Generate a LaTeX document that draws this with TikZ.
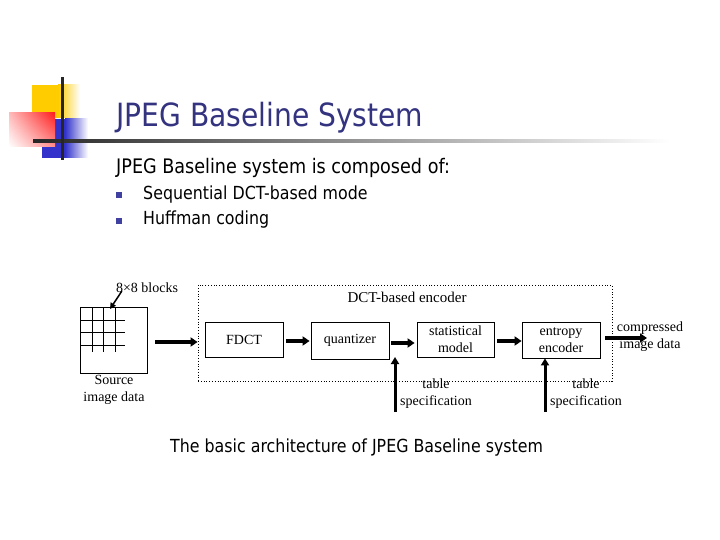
\documentclass[tikz,border=0pt]{standalone}
\usepackage{fontspec}
\setmainfont{Liberation Serif}
\newfontfamily\tah[FakeStretch=0.88]{DejaVu Sans}
\usetikzlibrary{arrows.meta,shadings}
\definecolor{titleblue}{RGB}{51,51,128}
\definecolor{bulletblue}{RGB}{64,64,160}
\definecolor{decoyellow}{RGB}{255,204,0}
\definecolor{decored}{RGB}{255,30,30}
\definecolor{decoblue}{RGB}{51,51,204}
\begin{document}
\begin{tikzpicture}[x=1bp,y=-1bp,
  box/.style={draw, line width=0.8bp, inner sep=0pt, font=\fontsize{14bp}{17bp}\selectfont, align=center},
  lbl/.style={inner sep=0pt, font=\fontsize{14bp}{17bp}\selectfont, align=center},
  bigarrow/.style={line width=3.5bp, -{Triangle[length=7bp,width=9bp]}},
  thinarrow/.style={line width=1.5bp, -{Triangle[length=6bp,width=6bp]}},
  slidetext/.style={anchor=base west, inner sep=0pt, font=\tah\fontsize{18bp}{21bp}\selectfont},
  bullet/.style={fill=bulletblue, minimum size=6bp, inner sep=0pt}]
\useasboundingbox (0,0) rectangle (720,540);
\fill[white] (0,0) rectangle (720,540);
% decoration
\fill[decoyellow] (32,85) rectangle (58,118);
\shade[left color=decoyellow, right color=white] (58,85) rectangle (80,118);
\fill[decoblue] (42,119) rectangle (65,158);
\shade[left color=decoblue, right color=white] (65,119) rectangle (88,158);
\shade[upper left=decored!30!white, upper right=decored, lower left=white, lower right=decored!50!white] (9,113) rectangle (55,147);
\shade[left color=black!85, right color=white] (33,139.5) rectangle (670,142.5);
\fill[black!85] (60.5,77) rectangle (63.5,160);
% title and text
\node[anchor=base west, inner sep=0pt, text=titleblue, font=\tah\fontsize{32bp}{38bp}\selectfont] (title) at (116,127) {JPEG Baseline System};
\node[slidetext, font=\tah\fontsize{20bp}{24bp}\selectfont] (intro) at (116,174) {JPEG Baseline system is composed of:};
\node[bullet] (b1) at (119,195.5) {};
\node[slidetext] (t1) at (143,200) {Sequential DCT-based mode};
\node[bullet] (b2) at (119,221.5) {};
\node[slidetext] (t2) at (143,225) {Huffman coding};
% diagram
\node[draw, line width=0.8bp, minimum width=67bp, minimum height=66bp, inner sep=0pt] (src) at (113.5,340) {};
\foreach \x in {92,103.5,115} \draw[line width=0.8bp] (\x,307) -- (\x,352);
\foreach \y in {320,332.5,345} \draw[line width=0.8bp] (80,\y) -- (125,\y);
\node[lbl] (srclbl) at (114,389.5) {Source\\image data};
\node[lbl] (blocks) at (147,288) {8×8 blocks};
\coordinate (blockpt) at (110,309);
\draw[thinarrow] ([xshift=6bp,yshift=2bp]blocks.south west) -- (blockpt);
\node[draw, dotted, line width=0.8bp, minimum width=414bp, minimum height=96bp, inner sep=0pt] (enc) at (405,333) {};
\node[lbl, font=\fontsize{15bp}{18bp}\selectfont] (enclbl) at (407,297) {DCT-based encoder};
\node[box, minimum width=78bp, minimum height=35bp] (fdct) at (244,339.5) {FDCT};
\node[box, minimum width=78bp, minimum height=37bp] (quant) at (350,340.5) {quantizer};
\node[box, minimum width=77bp, minimum height=35bp] (stat) at (455.5,339.5) {statistical\\model};
\node[box, minimum width=78bp, minimum height=36bp] (ent) at (561,340) {entropy\\encoder};
\node[lbl] (out) at (650,337) {compressed\\image data};
\node[lbl] (qspec) at (436,394) {table\\specification};
\node[lbl] (espec) at (586,394) {table\\specification};
% connectors
\draw[bigarrow, shorten <=8bp] ([yshift=-2bp]src.east) -- ([yshift=-2bp]src.east -| enc.west);
\draw[bigarrow, shorten <=3bp, shorten >=1bp] ([yshift=-1.5bp]fdct.east) -- ([yshift=-1.5bp]fdct.east -| quant.west);
\draw[bigarrow, shorten <=2bp, shorten >=2bp] ([yshift=-2.5bp]quant.east) -- ([yshift=-2.5bp]quant.east -| stat.west);
\draw[bigarrow, shorten <=3bp] ([yshift=-1.5bp]stat.east) -- ([yshift=-1.5bp]stat.east -| ent.west);
\coordinate (outtip) at (647,338);
\draw[bigarrow, shorten <=5bp] (ent.east |- outtip) -- (outtip);
\coordinate (qtail) at (395,412);
\coordinate (qtip) at (395,357);
\draw[line width=3bp, -{Triangle[length=7bp,width=8bp]}] (qtail) -- (qtip);
\coordinate (etail) at (545,412);
\draw[line width=3bp, -{Triangle[length=7bp,width=8bp]}] (etail) -- (ent.south -| etail);
\node[anchor=base west, inner sep=0pt, font=\tah\fontsize{18bp}{21bp}\selectfont] (caption) at (170,452) {The basic architecture of JPEG Baseline system};
\end{tikzpicture}
\end{document}
